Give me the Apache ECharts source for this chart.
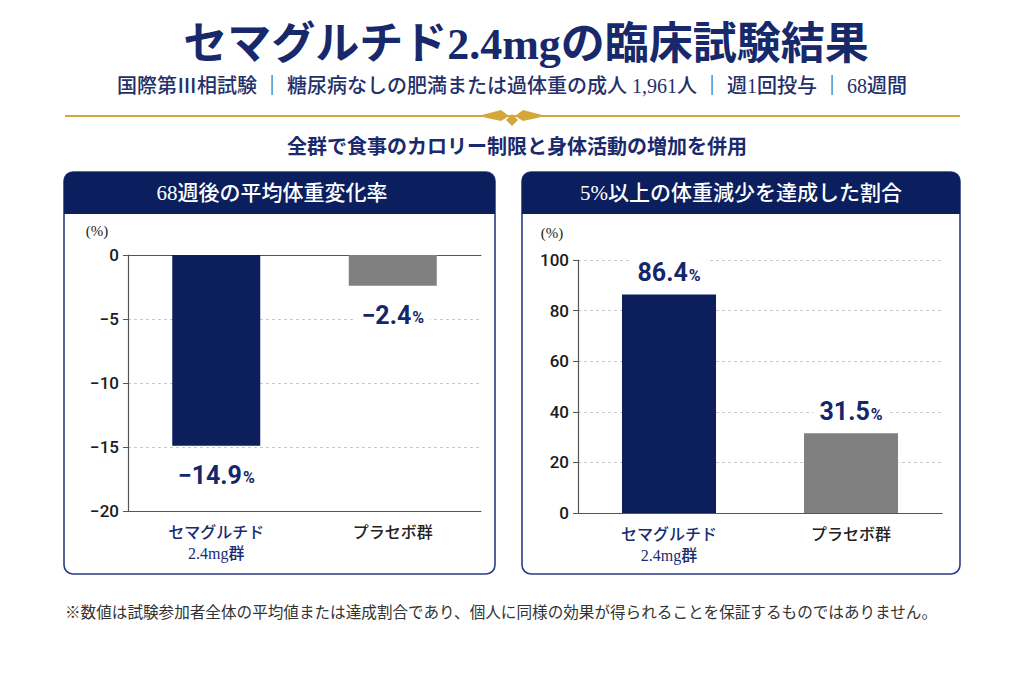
<!DOCTYPE html>
<html lang="ja">
<head>
<meta charset="utf-8">
<title>セマグルチド2.4mgの臨床試験結果</title>
<script src="https://cdn.jsdelivr.net/npm/echarts@6/dist/echarts.min.js"></script>
<style>
  html, body { margin: 0; padding: 0; background: #fff; }
  #main { width: 1024px; height: 683px; }
</style>
</head>
<body>
<div id="main"></div>
<script>
// 群
var groups = ['セマグルチド\n2.4mg群', 'プラセボ群'];
// 68週後の平均体重変化率（%）
var weightChange = [-14.9, -2.4];
// 5%以上の体重減少を達成した割合（%）
var achieved = [86.4, 31.5];

var NAVY = '#0c1f5c';
var GRAY = '#808080';
var GOLD = '#d4a73a';
var SERIF = '"Liberation Serif", "Noto Sans CJK JP", serif';
var SANS = '"Noto Sans CJK JP", sans-serif';

var chart = echarts.init(document.getElementById('main'), null, { renderer: 'svg' });

function minus(v) {
  return String(v).replace('-', '\u2212');
}

function barData(values) {
  return values.map(function (v, i) {
    return { value: v, itemStyle: { color: i === 0 ? NAVY : GRAY } };
  });
}

var valueLabel = {
  show: true,
  formatter: function (p) { return '{n|' + minus(p.value) + '}{p|%}'; },
  backgroundColor: '#fff',
  padding: [1, 6],
  rich: {
    n: { fontFamily: 'Roboto', fontWeight: 'bold', fontSize: 25, color: '#15276a' },
    p: { fontFamily: 'Roboto', fontWeight: 'bold', fontSize: 16, color: '#15276a', padding: [5, 0, 0, 1] }
  }
};

function catAxis(grid) {
  return {
    type: 'category',
    gridIndex: grid,
    data: groups,
    position: 'bottom',
    axisLine: { onZero: false, lineStyle: { color: '#555', width: 1.2 } },
    axisTick: { show: false },
    axisLabel: {
      margin: 11,
      fontFamily: SERIF,
      fontSize: 16,
      fontWeight: 500,
      lineHeight: 21,
      color: function (v, i) { return i === 0 ? '#1a2c70' : '#222'; }
    }
  };
}

function valAxis(grid, min, max, step) {
  return {
    type: 'value',
    gridIndex: grid,
    min: min,
    max: max,
    interval: step,
    axisLine: { show: true, lineStyle: { color: '#555', width: 1.2 } },
    axisTick: { show: true, length: 5, lineStyle: { color: '#555' } },
    axisLabel: {
      margin: 9,
      fontFamily: 'Roboto',
      fontWeight: 500,
      fontSize: 17,
      color: '#1a1a1a',
      formatter: function (v) { return minus(v); }
    },
    splitLine: { show: true, lineStyle: { color: '#c8c8c8', type: [3, 3], width: 1 } }
  };
}

function txt(text, x, y, font, fill, align) {
  return {
    type: 'text',
    z: 5,
    style: {
      text: text, x: x, y: y, font: font, fill: fill,
      align: align || 'center', textAlign: align || 'center',
      verticalAlign: 'middle', textVerticalAlign: 'middle'
    }
  };
}

function panel(x, w) {
  return [
    {
      type: 'rect', z: -10,
      shape: { x: x, y: 172, width: w, height: 402, r: 9 },
      style: { fill: '#fff', stroke: '#2a3c85', lineWidth: 1.6 }
    },
    {
      type: 'rect', z: -9,
      shape: { x: x, y: 172, width: w, height: 42, r: [9, 9, 0, 0] },
      style: { fill: '#0b1f5f' }
    }
  ];
}

var graphics = []
  .concat(panel(64, 431))
  .concat(panel(522, 438))
  .concat([
    txt('セマグルチド2.4mgの臨床試験結果', 526, 44, 'bold 44px ' + SERIF, '#17286b'),
    txt('国際第Ⅲ相試験 ｜ 糖尿病なしの肥満または過体重の成人 1,961人 ｜ 週1回投与 ｜ 68週間', 512, 86, '500 20px ' + SERIF, '#24306a'),
    { type: 'line', z: 5, shape: { x1: 65, y1: 116, x2: 960, y2: 116 }, style: { stroke: GOLD, lineWidth: 2 } },
    { type: 'polygon', z: 6, shape: { points: [[478, 116], [501, 110], [509, 116], [501, 121]] }, style: { fill: GOLD } },
    { type: 'polygon', z: 6, shape: { points: [[546, 116], [523, 110], [515, 116], [523, 121]] }, style: { fill: GOLD } },
    { type: 'polygon', z: 6, shape: { points: [[512, 114], [518, 120], [512, 126], [506, 120]] }, style: { fill: GOLD } },
    txt('全群で食事のカロリー制限と身体活動の増加を併用', 517, 145, 'bold 20px ' + SANS, '#1a2a6c'),
    txt('68週後の平均体重変化率', 272, 193, '500 21px ' + SERIF, '#fff'),
    txt('5%以上の体重減少を達成した割合', 741, 193, '500 21px ' + SERIF, '#fff'),
    txt('(%)', 97, 231, '15px ' + SERIF, '#222'),
    txt('(%)', 552, 233, '15px ' + SERIF, '#222'),
    txt('※数値は試験参加者全体の平均値または達成割合であり、個人に同様の効果が得られることを保証するものではありません。', 65, 611, '15.6px ' + SANS, '#333', 'left')
  ]);

var option = {
  backgroundColor: '#ffffff',
  animation: false,
  graphic: { elements: graphics },
  grid: [
    { left: 128, top: 255, width: 353, height: 256 },
    { left: 578, top: 260, width: 364, height: 253 }
  ],
  xAxis: [
    catAxis(0),
    catAxis(1),
    {
      type: 'category', gridIndex: 0, data: groups, position: 'top',
      axisLine: { onZero: false, lineStyle: { color: '#555', width: 1.2 } },
      axisTick: { show: false }, axisLabel: { show: false }
    }
  ],
  yAxis: [
    valAxis(0, -20, 0, 5),
    valAxis(1, 0, 100, 20)
  ],
  series: [
    {
      type: 'bar',
      xAxisIndex: 0,
      yAxisIndex: 0,
      barWidth: 88,
      data: barData(weightChange),
      label: Object.assign({}, valueLabel, { position: 'bottom', distance: 16 })
    },
    {
      type: 'bar',
      xAxisIndex: 1,
      yAxisIndex: 1,
      barWidth: 94,
      data: barData(achieved),
      label: Object.assign({}, valueLabel, { position: 'top', distance: 8 })
    }
  ]
};

chart.setOption(option);
</script>
</body>
</html>
